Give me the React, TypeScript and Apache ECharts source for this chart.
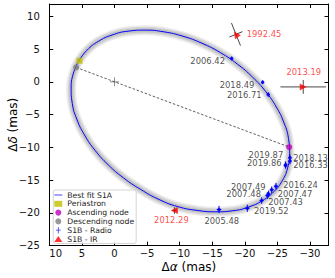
import { useEffect, useRef } from 'react';
import * as echarts from 'echarts';

// ---------------- data (mas) ----------------
const orbitX = [5.51, 4.21, 2.48, 0.36, -2.07, -4.75, -7.59, -10.51, -13.42, -16.23, -18.85, -21.2, -23.22, -24.84, -26.02, -26.71, -26.89, -26.57, -25.75, -24.45, -22.72, -20.6, -18.17, -15.49, -12.65, -9.73, -6.82, -4.02, -1.4, 0.96, 2.98, 4.6, 5.78, 6.47, 6.65, 6.33, 5.51];
const orbitY = [3.16, 4.84, 6.18, 7.16, 7.74, 7.9, 7.64, 6.97, 5.9, 4.48, 2.73, 0.72, -1.49, -3.84, -6.25, -8.65, -10.98, -13.15, -15.1, -16.78, -18.12, -19.1, -19.68, -19.84, -19.62, -19.05, -17.95, -16.42, -14.67, -12.66, -10.45, -8.1, -5.69, -3.29, -0.96, 1.21, 3.16];

const periastronXY = [5.36, 3.22];
const ascNodeXY = [-26.82, -9.95];
const descNodeXY = [5.87, 2.2];
const originXY = [0, 0];

const radioEpochs = ['2006.42', '2018.49', '2016.71', '2018.13', '2016.33', '2019.87', '2019.86', '2016.24', '2007.49', '2007.48', '2007.47', '2007.43', '2019.52', '2005.48'];
const radioX = [-17.99, -22.75, -23.6, -26.93, -26.93, -26.27, -26.24, -24.79, -24.13, -23.64, -23.48, -22.59, -20.39, -16.05];
const radioY = [3.58, -0.05, -1.93, -11.58, -12.1, -12.65, -12.76, -15.93, -16.48, -17.12, -17.35, -18.12, -19.3, -19.49];
const radioXErr = [0.2, 0.2, 0.2, 0.25, 0.25, 0.25, 0.25, 0.3, 0.3, 0.3, 0.3, 0.3, 0.35, 0.35];
const radioYErr = [0.3, 0.3, 0.35, 0.5, 0.5, 0.5, 0.5, 0.5, 0.5, 0.5, 0.5, 0.5, 0.55, 0.55];

const irEpochs = ['1992.45', '2013.19', '2012.29'];
const irX = [-18.65, -28.97, -9.2];
const irY = [7.26, -0.77, -19.65];
const irErrA = [[-0.69, -1.72], [3.5, 0], [0.35, 0]];
const irErrB = [[-1.01, 0.41], [0, 1.05], [0, 0.5]];

const legendNames = ['Best fit S1A', 'Periastron', 'Ascending node', 'Descending node', 'S1B - Radio', 'S1B - IR'];

// ---------------- label layout (style only) ----------------
const radioLabelLayout: [string, number, number][] = [
  ['right', -6.7, 2.7], ['right', -8.4, 3], ['right', -6.6, 0.7], ['left', 3.3, 0], ['left', 3.3, 4.3],
  ['right', -2.4, -9.3], ['right', -3.8, -2.3], ['left', 7.3, -0.7], ['right', -6, -2.6], ['right', -7.5, -0.2],
  ['left', 10.2, -1.7], ['left', 6.6, 1], ['left', 6.7, 3], ['center', 2.7, 11],
];
const irLabelLayout: [string, number, number][] = [['left', 10.7, 0], ['center', 0.5, -15], ['center', -3, 9.3]];
const irRotate = [35, -90, 90];

const FONT = 'DejaVu Sans';
const plusPath = 'path://M-0.14,-1H0.14V-0.14H0.8V0.14H0.14V1H-0.14V0.14H-0.8V-0.14H-0.14Z';
const originPath = 'path://M-0.08,-1H0.08V-0.08H1V0.08H0.08V1H-0.08V0.08H-1V-0.08H-0.08Z';
const lineIconPath = 'path://M0,0H10V1.4H0Z';

const minus = (v: number) => {
  if (Math.abs(v % 5) > 1e-6) return '';
  return v < 0 ? '\u2212' + Math.abs(v) : String(v);
};

function makeErrorBars(color: string, width: number) {
  return (_params: any, api: any) => {
    const x = api.value(0);
    const y = api.value(1);
    const seg = (dx: number, dy: number) => {
      const p = api.coord([x - dx, y - dy]);
      const q = api.coord([x + dx, y + dy]);
      return { type: 'line', shape: { x1: p[0], y1: p[1], x2: q[0], y2: q[1] }, style: { stroke: color, lineWidth: width } };
    };
    return { type: 'group', children: [seg(api.value(2), api.value(3)), seg(api.value(4), api.value(5))] };
  };
}

const X_MIN = -32.85;
const X_MAX = 10;
const Y_MIN = -25;
const Y_MAX = 11.89;

function buildOption() {
  const orbit = orbitX.map((x, i) => [x, orbitY[i]]);
  const halo = (w: number, a: number) => ({
    type: 'line', data: orbit, smooth: true, symbol: 'none', silent: true, z: 1,
    lineStyle: { color: `rgba(128,128,128,${a})`, width: w },
  });
  const commonAxisLine = { onZero: false, lineStyle: { color: '#000', width: 1 } };
  const commonTick = { inside: true, length: 4, lineStyle: { color: '#000', width: 1 } };
  const nameRich = {
    rich: {
      n: { fontSize: 12, color: '#000', fontFamily: FONT },
      i: { fontSize: 12, color: '#000', fontStyle: 'italic', fontFamily: FONT },
    },
  };
  return {
    animation: false,
    textStyle: { fontFamily: FONT },
    grid: { left: 49.3, right: 6.5, top: 4, bottom: 32.4, containLabel: false, outerBoundsMode: 'none' },
    legend: {
      orient: 'vertical', left: 53.3, top: 190, padding: [1, 2, 0.5, 1],
      itemWidth: 8, itemHeight: 6, itemGap: 0.8,
      backgroundColor: 'rgba(255,255,255,0.85)', borderColor: '#cccccc', borderWidth: 0.8, borderRadius: 2,
      textStyle: { fontSize: 7.7, lineHeight: 7.7, color: '#222', fontFamily: FONT },
      selectedMode: false,
      data: [
        { name: legendNames[0], icon: lineIconPath, itemStyle: { color: '#5a5aff' } },
        { name: legendNames[1], icon: 'rect' },
        { name: legendNames[2], icon: 'circle' },
        { name: legendNames[3], icon: 'circle' },
        { name: legendNames[4], icon: plusPath },
        { name: legendNames[5], icon: 'triangle' },
      ],
    },
    xAxis: [
      {
        type: 'value', min: X_MIN, max: X_MAX, inverse: true, minInterval: 5, maxInterval: 5, position: 'bottom',
        name: '{n|Δ}{i|α}{n| (mas)}', nameLocation: 'middle', nameGap: 15, nameMoveOverlap: false,
        nameTextStyle: nameRich,
        axisLine: commonAxisLine, axisTick: commonTick,
        axisLabel: { fontSize: 10, color: '#111', margin: 3, formatter: minus, alignMaxLabel: 'left' },
        splitLine: { show: false },
      },
      {
        type: 'value', min: X_MIN, max: X_MAX, inverse: true, minInterval: 5, maxInterval: 5, position: 'top',
        axisLine: commonAxisLine, axisTick: commonTick, axisLabel: { show: false }, splitLine: { show: false },
      },
    ],
    yAxis: [
      {
        type: 'value', min: Y_MIN, max: Y_MAX, interval: 5, position: 'left',
        name: '{n|Δ}{i|δ}{n| (mas)}', nameLocation: 'middle', nameGap: 30.8, nameMoveOverlap: false,
        nameTextStyle: nameRich,
        axisLine: commonAxisLine, axisTick: commonTick,
        axisLabel: { fontSize: 10, color: '#111', margin: 9.5, formatter: minus },
        splitLine: { show: false },
      },
      {
        type: 'value', min: Y_MIN, max: Y_MAX, interval: 5, position: 'right',
        axisLine: commonAxisLine, axisTick: commonTick, axisLabel: { show: false }, splitLine: { show: false },
      },
    ],
    series: [
      halo(10, 0.15),
      halo(7, 0.2),
      halo(4, 0.24),
      {
        name: legendNames[0], type: 'line', data: orbit, smooth: true, symbol: 'none', z: 2,
        itemStyle: { color: '#0000ff' },
        lineStyle: { color: '#0000ff', width: 1 },
      },
      {
        name: 'nodes', type: 'line', data: [descNodeXY, ascNodeXY], symbol: 'none', silent: true, z: 2,
        lineStyle: { color: '#333', width: 0.8, type: [2.5, 1.8] },
      },
      {
        name: 'origin', type: 'scatter', data: [originXY], symbol: originPath, symbolSize: 9, silent: true, z: 3,
        itemStyle: { color: '#444' },
      },
      {
        name: legendNames[4] + ' err', type: 'custom', renderItem: makeErrorBars('#0000ff', 1), silent: true, z: 4,
        encode: { x: 0, y: 1 },
        data: radioX.map((x, i) => [x, radioY[i], radioXErr[i], 0, 0, radioYErr[i]]),
      },
      {
        name: legendNames[5] + ' err', type: 'custom', renderItem: makeErrorBars('#333333', 0.9), silent: true, z: 4,
        encode: { x: 0, y: 1 },
        data: irX.map((x, i) => [x, irY[i], irErrA[i][0], irErrA[i][1], irErrB[i][0], irErrB[i][1]]),
      },
      {
        name: legendNames[4], type: 'scatter', symbol: 'circle', symbolSize: 3.5, z: 5,
        itemStyle: { color: '#0000ff' },
        label: { show: true, position: 'inside', formatter: '{b}', fontSize: 8.4, color: '#222', verticalAlign: 'middle', fontFamily: FONT },
        data: radioX.map((x, i) => ({
          name: radioEpochs[i], value: [x, radioY[i]],
          label: { align: radioLabelLayout[i][0], offset: [radioLabelLayout[i][1], radioLabelLayout[i][2]] },
        })),
      },
      {
        name: legendNames[5], type: 'scatter', symbol: 'triangle', symbolSize: 7, z: 5,
        itemStyle: { color: '#ff0000' },
        label: { show: true, position: 'inside', formatter: '{b}', fontSize: 8.4, color: '#ff2020', verticalAlign: 'middle', fontFamily: FONT },
        data: irX.map((x, i) => ({
          name: irEpochs[i], value: [x, irY[i]], symbolRotate: irRotate[i],
          label: { align: irLabelLayout[i][0], offset: [irLabelLayout[i][1], irLabelLayout[i][2]] },
        })),
      },
      {
        name: legendNames[1], type: 'scatter', data: [periastronXY], symbol: 'rect', symbolSize: 6, z: 6,
        itemStyle: { color: '#bfbf00' },
      },
      {
        name: legendNames[3], type: 'scatter', data: [descNodeXY], symbol: 'circle', symbolSize: 6, z: 6,
        itemStyle: { color: '#808080' },
      },
      {
        name: legendNames[2], type: 'scatter', data: [ascNodeXY], symbol: 'circle', symbolSize: 6, z: 6,
        itemStyle: { color: '#bf00bf' },
      },
    ],
  };
}

export default function App() {
  const ref = useRef<HTMLDivElement>(null);
  useEffect(() => {
    if (!ref.current) return;
    const chart = echarts.init(ref.current, null, { renderer: 'svg' });
    chart.setOption(buildOption() as any);
    return () => chart.dispose();
  }, []);
  return <div ref={ref} style={{ position: 'absolute', left: 0, top: 0, width: 335, height: 278 }} />;
}
